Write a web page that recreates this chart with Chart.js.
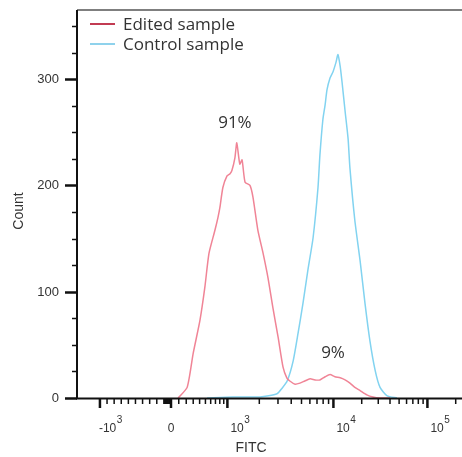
<!DOCTYPE html>
<html>
<head>
<meta charset="utf-8">
<script src="https://cdn.jsdelivr.net/npm/chart.js@4.4.1/dist/chart.umd.min.js"></script>
<style>
  body { margin: 0; background: #fff; }
  canvas { display: block; }
</style>
</head>
<body>
<canvas id="histo" width="462" height="457"></canvas>
<script>
// Histogram bins, x in display channels (0-1024), y in events
const editedCh = [269, 293, 309, 327, 340, 351, 367, 375, 380, 388, 399, 407, 412, 420, 425, 433, 439, 447, 460, 468, 481, 495, 508, 521, 535, 548, 558, 566, 580, 593, 606, 620, 633, 646, 660, 673, 686, 700, 713, 726, 739, 753, 771, 787, 806, 833];
const editedCount = [0, 10, 42, 73, 104, 136, 158, 170, 179, 198, 209, 211, 214, 226, 240, 220, 224, 203, 200, 189, 158, 136, 113, 85, 57, 29, 19, 16, 13, 14, 16, 18, 17, 17, 20, 22, 20, 19, 17, 14, 10, 7, 3, 1, 0, 0];

const controlCh = [346, 415, 487, 532, 545, 559, 575, 588, 601, 614, 628, 641, 646, 654, 660, 665, 673, 681, 689, 694, 700, 705, 713, 721, 726, 739, 753, 766, 779, 793, 806, 825, 851];
const controlCount = [0, 1, 1, 4, 9, 16, 35, 61, 89, 120, 151, 198, 228, 262, 276, 290, 301, 307, 316, 323, 312, 297, 270, 244, 216, 167, 129, 89, 54, 26, 10, 2, 0];

const seriesNames = ['Edited sample', 'Control sample'];

// biexponential axis: FITC value -> channel anchors
const tickValues = [-1000, 0, 1000, 10000, 100000];
const tickChannels = [61, 250, 400, 682, 932];
const tickBase = ['-10', '0', '10', '10', '10'];
const tickExp = ['3', '', '3', '4', '5'];

const yMajor = [0, 100, 200, 300];

const notes = ['91%', '9%'];
const noteCh = [420, 681];
const noteCount = [259, 42];

function fitcToChannel(v) {
    const [cN, c0, c1, c2, c3] = tickChannels;
    if (v <= 0) return c0 + (v / 1000) * (c0 - cN);
    if (v <= 1000) return c0 + Math.asinh(v / 500) / Math.asinh(2) * (c1 - c0);
    if (v <= 10000) return c1 + Math.log10(v / 1000) * (c2 - c1);
    return c2 + Math.log10(v / 10000) * (c3 - c2);
}

function minorTicks() {
    const out = [];
    for (let k = 1; k <= 9; k++) {
        out.push(-k * 100, -k * 10, k * 100);
        if (k > 1) out.push(k * 1000, k * 10000);
    }
    out.push(200000);
    return out;
}

const pink = '#f08496';
const cyan = '#82d3f0';
const textFont = '"Open Sans", sans-serif';
const axisFont = '"Liberation Sans", Arial, sans-serif';

const decor = {
    id: 'decor',
    afterDraw(chart) {
        const ctx = chart.ctx;
        const a = chart.chartArea;
        const x = chart.scales.x;
        const y = chart.scales.y;
        ctx.save();

        // frame top
        ctx.strokeStyle = '#555';
        ctx.lineWidth = 1.5;
        ctx.beginPath();
        ctx.moveTo(a.left, a.top);
        ctx.lineTo(a.right, a.top);
        ctx.stroke();

        // axes
        ctx.strokeStyle = '#111';
        ctx.lineWidth = 2;
        ctx.beginPath();
        ctx.moveTo(a.left, a.top);
        ctx.lineTo(a.left, a.bottom + 0.5);
        ctx.lineTo(a.right, a.bottom + 0.5);
        ctx.stroke();

        // y ticks and labels
        ctx.fillStyle = '#333';
        ctx.font = '13px ' + axisFont;
        ctx.textAlign = 'right';
        ctx.textBaseline = 'middle';
        for (let v = 0; v <= 350; v += 25) {
            const py = Math.round(y.getPixelForValue(v)) + 0.5;
            const major = yMajor.includes(v);
            ctx.lineWidth = major ? 2.5 : 1.5;
            ctx.beginPath();
            ctx.moveTo(a.left, py);
            ctx.lineTo(a.left - (major ? 12 : 5), py);
            ctx.stroke();
            if (major) ctx.fillText(String(v), a.left - 18, py);
        }

        // x ticks
        const base = a.bottom + 1;
        ctx.lineWidth = 1.5;
        minorTicks().forEach(v => {
            const px = x.getPixelForValue(fitcToChannel(v));
            if (px < a.left || px > a.right) return;
            ctx.beginPath();
            ctx.moveTo(px, base);
            ctx.lineTo(px, base + 5);
            ctx.stroke();
        });
        ctx.lineWidth = 2.5;
        tickChannels.forEach(c => {
            const px = x.getPixelForValue(c);
            ctx.beginPath();
            ctx.moveTo(px, base);
            ctx.lineTo(px, base + 9);
            ctx.stroke();
        });

        // x tick labels with superscripts
        ctx.textBaseline = 'alphabetic';
        const mainFont = '12px ' + axisFont;
        const supFont = '10px ' + axisFont;
        ctx.font = mainFont;
        const w10 = ctx.measureText('10').width;
        tickChannels.forEach((c, i) => {
            const px = x.getPixelForValue(c);
            ctx.font = mainFont;
            if (!tickExp[i]) {
                ctx.textAlign = 'center';
                ctx.fillText(tickBase[i], px, 432);
                return;
            }
            const end = px + 3 + w10;
            ctx.textAlign = 'right';
            ctx.fillText(tickBase[i], end, 432);
            ctx.font = supFont;
            ctx.textAlign = 'left';
            ctx.fillText(tickExp[i], end + 0.5, 423);
        });

        // axis titles
        ctx.font = '14px ' + axisFont;
        ctx.textAlign = 'center';
        ctx.fillText('FITC', 251, 452);
        ctx.save();
        ctx.translate(23, 211);
        ctx.rotate(-Math.PI / 2);
        ctx.fillText('Count', 0, 0);
        ctx.restore();

        // percentages
        ctx.font = '17px ' + textFont;
        ctx.textBaseline = 'middle';
        notes.forEach((t, i) => {
            ctx.fillText(t, x.getPixelForValue(noteCh[i]), y.getPixelForValue(noteCount[i]));
        });

        // legend
        const legendColors = ['#c23b52', '#8fd2ec'];
        ctx.textAlign = 'left';
        seriesNames.forEach((name, i) => {
            const ly = a.top + 14 + i * 20;
            ctx.strokeStyle = legendColors[i];
            ctx.lineWidth = 2;
            ctx.beginPath();
            ctx.moveTo(a.left + 13, ly);
            ctx.lineTo(a.left + 38, ly);
            ctx.stroke();
            ctx.fillStyle = '#333';
            ctx.fillText(name, a.left + 46, ly + 1);
        });

        ctx.restore();
    }
};

const toPoints = (xs, ys) => xs.map((v, i) => ({ x: v, y: ys[i] }));

new Chart(document.getElementById('histo'), {
    type: 'line',
    data: {
        datasets: [
            {
                label: seriesNames[0],
                data: toPoints(editedCh, editedCount),
                borderColor: pink,
                borderWidth: 1.5,
                pointRadius: 0,
                tension: 0.2,
                fill: false
            },
            {
                label: seriesNames[1],
                data: toPoints(controlCh, controlCount),
                borderColor: cyan,
                borderWidth: 1.5,
                pointRadius: 0,
                tension: 0.2,
                fill: false
            }
        ]
    },
    options: {
        responsive: false,
        animation: false,
        devicePixelRatio: 1,
        layout: { padding: { top: 10, left: 0, right: 0, bottom: 0 } },
        plugins: {
            legend: { display: false },
            tooltip: { enabled: false }
        },
        scales: {
            x: {
                type: 'linear',
                min: 0,
                max: 1024,
                grid: { display: false, drawTicks: false },
                border: { display: false },
                ticks: { display: false },
                afterFit: s => { s.height = 59; }
            },
            y: {
                min: 0,
                max: 365,
                grid: { display: false, drawTicks: false },
                border: { display: false },
                ticks: { display: false },
                afterFit: s => { s.width = 77; }
            }
        }
    },
    plugins: [decor]
});
</script>
</body>
</html>
